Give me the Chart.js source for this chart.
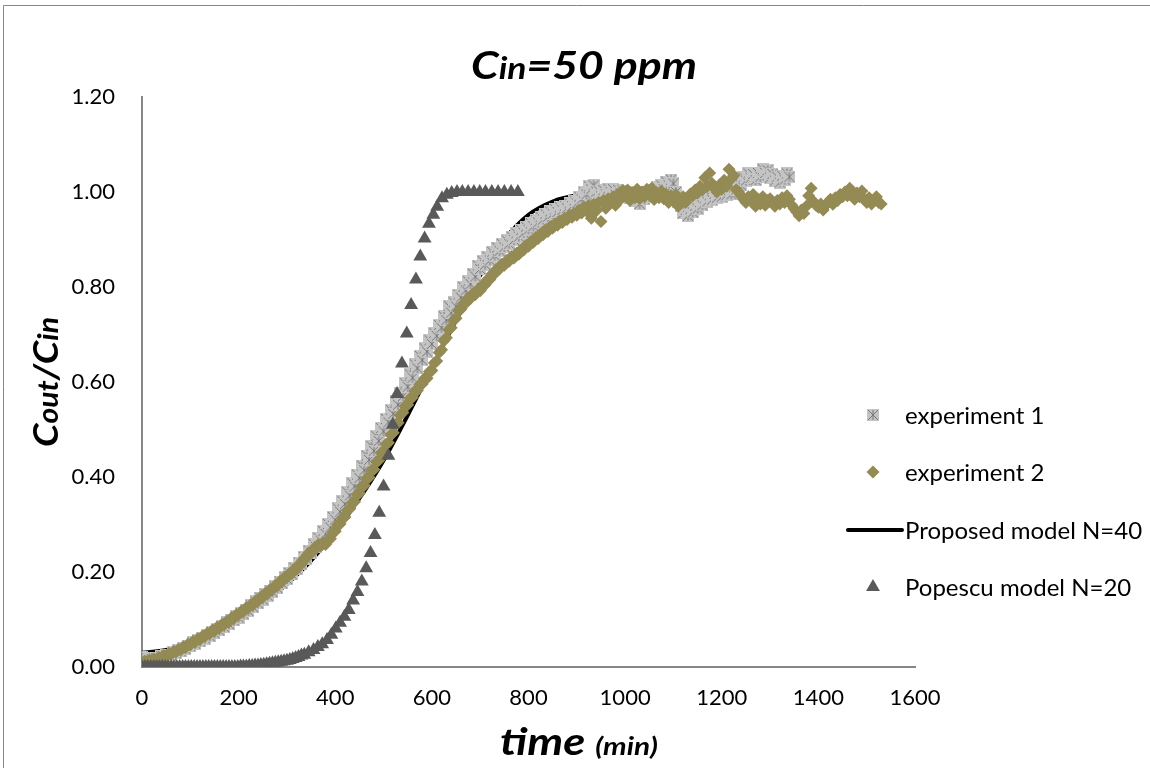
<!DOCTYPE html>
<html>
<head>
<meta charset="utf-8">
<title>Cin=50 ppm</title>
<script src="https://cdn.jsdelivr.net/npm/chart.js@4.4.1/dist/chart.umd.min.js"></script>
<style>
  html, body { margin: 0; padding: 0; background: #fff; }
  #wrap { width: 1150px; height: 768px; }
</style>
</head>
<body>
<div id="wrap"><canvas id="myChart" width="1150" height="768"></canvas></div>
<script>
// breakthrough curves, Cout/Cin against time (min)
// experiments are sampled every 5 min
const exp1Start = 0, exp1Step = 5;
const exp1Values = [
  0.022, 0.019, 0.018, 0.015, 0.017, 0.020, 0.019, 0.017, 0.023, 0.021,
  0.026, 0.024, 0.025, 0.032, 0.029, 0.036, 0.033, 0.041, 0.038, 0.045,
  0.044, 0.052, 0.049, 0.057, 0.054, 0.062, 0.060, 0.068, 0.065, 0.074,
  0.071, 0.080, 0.077, 0.086, 0.084, 0.094, 0.090, 0.100, 0.098, 0.107,
  0.104, 0.114, 0.111, 0.121, 0.118, 0.130, 0.126, 0.138, 0.134, 0.146,
  0.142, 0.154, 0.150, 0.161, 0.158, 0.170, 0.166, 0.180, 0.176, 0.189,
  0.185, 0.198, 0.195, 0.209, 0.206, 0.220, 0.216, 0.232, 0.228, 0.245,
  0.241, 0.259, 0.253, 0.272, 0.266, 0.286, 0.280, 0.301, 0.294, 0.316,
  0.310, 0.334, 0.327, 0.349, 0.343, 0.368, 0.361, 0.387, 0.380, 0.405,
  0.398, 0.424, 0.414, 0.445, 0.436, 0.465, 0.455, 0.486, 0.476, 0.503,
  0.496, 0.522, 0.515, 0.541, 0.533, 0.559, 0.552, 0.577, 0.570, 0.597,
  0.590, 0.616, 0.609, 0.637, 0.629, 0.655, 0.646, 0.671, 0.664, 0.688,
  0.680, 0.703, 0.697, 0.720, 0.714, 0.738, 0.730, 0.760, 0.746, 0.768,
  0.759, 0.784, 0.778, 0.800, 0.793, 0.812, 0.806, 0.828, 0.822, 0.845,
  0.838, 0.855, 0.847, 0.864, 0.856, 0.874, 0.866, 0.883, 0.876, 0.891,
  0.884, 0.898, 0.891, 0.906, 0.899, 0.913, 0.906, 0.920, 0.914, 0.927,
  0.921, 0.934, 0.928, 0.941, 0.936, 0.947, 0.942, 0.954, 0.948, 0.959,
  0.954, 0.964, 0.958, 0.968, 0.962, 0.971, 0.966, 0.976, 0.970, 0.982,
  0.976, 0.990, 0.985, 0.999, 0.995, 1.012, 1.006, 1.014, 1.001, 1.003,
  0.991, 1.004, 0.995, 1.007, 1.000, 1.006, 0.994, 1.005, 0.997, 1.003,
  0.990, 0.999, 0.987, 0.996, 0.982, 0.991, 0.975, 0.991, 0.985, 0.999,
  0.990, 1.005, 0.995, 1.010, 0.999, 1.014, 1.006, 1.022, 1.014, 1.026,
  1.018, 1.000, 0.978, 0.970, 0.955, 0.962, 0.950, 0.964, 0.957, 0.971,
  0.965, 0.979, 0.972, 0.987, 0.980, 0.993, 0.984, 0.996, 0.988, 1.000,
  0.990, 1.003, 0.994, 1.004, 0.995, 1.010, 1.005, 1.021, 1.014, 1.031,
  1.024, 1.039, 1.030, 1.038, 1.025, 1.040, 1.032, 1.048, 1.040, 1.046,
  1.030, 1.038, 1.024, 1.032, 1.020, 1.034, 1.026, 1.039, 1.032
];

const exp2Start = 0, exp2Step = 5;
const exp2Values = [
  0.010, 0.012, 0.011, 0.015, 0.014, 0.017, 0.016, 0.020, 0.019, 0.024,
  0.023, 0.028, 0.027, 0.032, 0.031, 0.037, 0.036, 0.042, 0.041, 0.048,
  0.047, 0.053, 0.052, 0.059, 0.058, 0.065, 0.064, 0.071, 0.070, 0.077,
  0.076, 0.083, 0.082, 0.089, 0.089, 0.096, 0.095, 0.103, 0.102, 0.110,
  0.110, 0.117, 0.117, 0.124, 0.124, 0.131, 0.131, 0.139, 0.139, 0.147,
  0.147, 0.155, 0.155, 0.163, 0.163, 0.171, 0.171, 0.180, 0.180, 0.189,
  0.189, 0.197, 0.197, 0.206, 0.206, 0.216, 0.217, 0.228, 0.229, 0.240,
  0.240, 0.249, 0.249, 0.258, 0.255, 0.262, 0.258, 0.268, 0.270, 0.283,
  0.286, 0.299, 0.301, 0.314, 0.316, 0.330, 0.333, 0.346, 0.348, 0.363,
  0.366, 0.380, 0.382, 0.397, 0.399, 0.414, 0.416, 0.432, 0.435, 0.451,
  0.454, 0.469, 0.472, 0.489, 0.493, 0.510, 0.514, 0.531, 0.536, 0.550,
  0.552, 0.566, 0.568, 0.581, 0.582, 0.595, 0.596, 0.608, 0.608, 0.622,
  0.624, 0.640, 0.644, 0.662, 0.668, 0.687, 0.693, 0.710, 0.714, 0.730,
  0.734, 0.750, 0.753, 0.765, 0.766, 0.777, 0.776, 0.786, 0.784, 0.794,
  0.792, 0.804, 0.804, 0.816, 0.816, 0.828, 0.828, 0.839, 0.838, 0.848,
  0.846, 0.856, 0.854, 0.864, 0.861, 0.871, 0.869, 0.879, 0.878, 0.888,
  0.886, 0.896, 0.894, 0.904, 0.902, 0.912, 0.910, 0.920, 0.917, 0.927,
  0.924, 0.933, 0.930, 0.939, 0.936, 0.945, 0.942, 0.951, 0.947, 0.955,
  0.951, 0.962, 0.956, 0.968, 0.960, 0.972, 0.945, 0.975, 0.960, 0.978,
  0.938, 0.982, 0.966, 0.986, 0.978, 0.990, 0.972, 0.996, 0.984, 1.003,
  0.992, 1.004, 0.982, 0.998, 0.988, 1.006, 0.986, 1.000, 0.990, 1.006,
  0.996, 1.008, 0.984, 0.999, 0.988, 1.002, 0.986, 0.995, 0.978, 0.992,
  0.982, 0.995, 0.970, 0.985, 0.990, 0.978, 0.988, 0.996, 0.992, 1.004,
  0.998, 1.012, 1.005, 1.030, 1.012, 1.040, 1.018, 1.008, 1.000, 1.015,
  1.006, 1.025, 1.012, 1.048, 1.028, 1.035, 1.005, 1.000, 0.992, 0.985,
  0.978, 0.990, 0.982, 0.995, 0.970, 0.985, 0.975, 0.990, 0.972, 0.982,
  0.986, 0.978, 0.970, 0.982, 0.975, 0.988, 0.978, 0.992, 0.985, 0.972,
  0.965, 0.958, 0.950, 0.962, 0.955, 0.970, 0.992, 1.008, 0.980, 0.972,
  0.968, 0.975, 0.962, 0.972, 0.978, 0.985, 0.974, 0.988, 0.982, 0.995,
  0.990, 1.000, 0.992, 1.008, 0.995, 0.985, 0.998, 0.990, 1.002, 0.985,
  0.978, 0.988, 0.975, 0.982, 0.990, 0.978, 0.975
];

// proposed model, N=40
const modelTime = [0, 50, 100, 150, 200, 250, 300, 350, 400, 450, 500,
  550, 600, 650, 700, 750, 800, 850, 900, 950, 1000];
const modelValue = [0.030, 0.036, 0.046, 0.068, 0.100, 0.135, 0.175, 0.224, 0.285, 0.355, 0.435,
  0.530, 0.630, 0.730, 0.825, 0.900, 0.952, 0.980, 0.993, 0.998, 1.000];

// Popescu model, N=20
const popescuTime = [
  0, 6, 12, 18, 24, 30, 36, 42, 48, 54, 60, 66, 72, 78, 84, 90, 96, 102, 108, 114,
  120, 126, 132, 138, 144, 150, 156, 162, 168, 174, 180, 186, 192, 198, 204, 210, 216, 222, 228, 234,
  240, 246, 252, 258, 264, 270, 276, 282, 288, 294, 300, 306, 312, 318, 324, 330, 336,
  345, 355, 364, 373, 383, 392, 401, 410, 419, 428, 437, 446, 455, 464, 473, 482, 491, 500,
  510, 519, 528, 538, 548, 557, 567, 576, 585, 594, 603, 611, 621, 631, 641, 652, 663,
  675, 687, 699, 711, 724, 737, 750, 764, 778
];
const popescuValue = [
  0.000, 0.000, 0.000, 0.000, 0.000, 0.000, 0.000, 0.000, 0.000, 0.000, 0.000, 0.000, 0.000, 0.000, 0.000, 0.000, 0.000, 0.000, 0.000, 0.000,
  0.000, 0.000, 0.000, 0.000, 0.000, 0.000, 0.000, 0.000, 0.000, 0.000, 0.000, 0.000, 0.000, 0.000, 0.001, 0.001, 0.001, 0.002, 0.002, 0.003,
  0.003, 0.004, 0.005, 0.006, 0.007, 0.008, 0.009, 0.010, 0.011, 0.012, 0.013, 0.015, 0.017, 0.019, 0.021, 0.024, 0.026,
  0.031, 0.036, 0.042, 0.048, 0.057, 0.068, 0.081, 0.093, 0.106, 0.120, 0.140, 0.158, 0.180, 0.208, 0.240, 0.278, 0.325, 0.380,
  0.445, 0.510, 0.575, 0.639, 0.702, 0.762, 0.816, 0.864, 0.902, 0.933, 0.952, 0.969, 0.987, 0.994, 0.998, 1.000, 1.000,
  1.000, 1.000, 1.000, 1.000, 1.000, 1.000, 1.000, 1.000, 1.000
];

const xTicks = [0, 200, 400, 600, 800, 1000, 1200, 1400, 1600];
const yTicks = [0, 0.2, 0.4, 0.6, 0.8, 1.0, 1.2];

const FONT = "Lato, 'Open Sans', sans-serif";

function toPoints(values, start, step) {
  return values.map((v, i) => ({ x: start + i * step, y: v }));
}

// grey box with a star drawn through it
function starBox(size) {
  const c = document.createElement('canvas');
  c.width = size;
  c.height = size;
  const g = c.getContext('2d');
  g.fillStyle = '#c4c4c4';
  g.fillRect(0, 0, size, size);
  g.strokeStyle = '#777';
  g.lineWidth = 1;
  g.beginPath();
  g.moveTo(1, 1); g.lineTo(size - 1, size - 1);
  g.moveTo(size - 1, 1); g.lineTo(1, size - 1);
  g.moveTo(size / 2, 1); g.lineTo(size / 2, size - 1);
  g.stroke();
  return c;
}

const legendRows = [
  { label: 'experiment 1', y: 415 },
  { label: 'experiment 2', y: 472 },
  { label: 'Proposed model N=40', y: 530, line: true },
  { label: 'Popescu model N=20', y: 587 }
];

// draws pieces of text with different fonts, centred on cx and stretched to width
function drawRun(ctx, parts, cx, baseline, width) {
  let total = 0;
  parts.forEach(p => { ctx.font = p.f; p.w = ctx.measureText(p.t).width; total += p.w; });
  const sx = width ? width / total : 1;
  ctx.save();
  ctx.translate(cx - total * sx / 2, baseline);
  ctx.scale(sx, 1);
  ctx.textAlign = 'left';
  let x = 0;
  parts.forEach(p => {
    ctx.font = p.f;
    ctx.fillText(p.t, x, 0);
    x += p.w;
  });
  ctx.restore();
}

// frame, titles and the legend
const decorations = {
  id: 'decorations',
  afterDraw(chart) {
    const ctx = chart.ctx;
    ctx.save();

    ctx.strokeStyle = '#878787';
    ctx.lineWidth = 1;
    ctx.beginPath();
    ctx.moveTo(3.5, 768);
    ctx.lineTo(3.5, 5.5);
    ctx.lineTo(1150, 5.5);
    ctx.stroke();

    ctx.fillStyle = '#000';
    ctx.textBaseline = 'alphabetic';

    // chart title
    drawRun(ctx, [
      { t: 'C', f: 'italic bold 39px ' + FONT },
      { t: 'in', f: 'italic bold 31px ' + FONT },
      { t: '=50 ppm', f: 'italic bold 39px ' + FONT }
    ], 584, 79, 226);

    // x axis title
    drawRun(ctx, [
      { t: 'time ', f: 'italic bold 38px ' + FONT },
      { t: '(min)', f: 'italic bold 25px ' + FONT }
    ], 579, 755, 158);

    // y axis title
    ctx.save();
    ctx.translate(58, 382);
    ctx.rotate(-Math.PI / 2);
    drawRun(ctx, [
      { t: 'C', f: 'italic bold 35px ' + FONT },
      { t: 'out', f: 'italic bold 28px ' + FONT },
      { t: '/C', f: 'italic bold 35px ' + FONT },
      { t: 'in', f: 'italic bold 28px ' + FONT }
    ], 0, 0, 130);
    ctx.restore();

    // legend
    ctx.font = '24px ' + FONT;
    ctx.textBaseline = 'middle';
    ctx.textAlign = 'left';
    legendRows.forEach((row, i) => {
      const ds = chart.data.datasets[i];
      if (row.line) {
        ctx.strokeStyle = ds.borderColor;
        ctx.lineWidth = ds.borderWidth;
        ctx.lineCap = 'round';
        ctx.beginPath();
        ctx.moveTo(848, row.y);
        ctx.lineTo(902, row.y);
        ctx.stroke();
      } else {
        ctx.fillStyle = ds.backgroundColor;
        ctx.strokeStyle = ds.borderColor;
        Chart.helpers.drawPoint(ctx, {
          pointStyle: ds.pointStyle,
          radius: ds.pointRadius,
          borderWidth: 0,
          rotation: 0
        }, 873, row.y);
      }
      ctx.fillStyle = '#000';
      ctx.fillText(row.label, 905, row.y + 1);
    });

    ctx.restore();
  }
};

const ctx = document.getElementById('myChart');
new Chart(ctx, {
  type: 'scatter',
  data: {
    datasets: [
      {
        label: 'experiment 1',
        data: toPoints(exp1Values, exp1Start, exp1Step),
        pointStyle: starBox(12),
        pointRadius: 6,
        backgroundColor: '#c4c4c4',
        borderColor: '#777',
        borderWidth: 0,
        showLine: false,
        order: 3
      },
      {
        label: 'experiment 2',
        data: toPoints(exp2Values, exp2Start, exp2Step),
        pointStyle: 'rectRot',
        pointRadius: 6.5,
        backgroundColor: '#948a54',
        borderColor: '#948a54',
        borderWidth: 0,
        showLine: false,
        order: 2
      },
      {
        label: 'Proposed model N=40',
        data: modelTime.map((t, i) => ({ x: t, y: modelValue[i] })),
        showLine: true,
        borderColor: '#000',
        borderWidth: 4,
        pointRadius: 0,
        cubicInterpolationMode: 'monotone',
        order: 4
      },
      {
        label: 'Popescu model N=20',
        data: popescuTime.map((t, i) => ({ x: t, y: popescuValue[i] })),
        pointStyle: 'triangle',
        pointRadius: 8,
        backgroundColor: '#595959',
        borderColor: '#595959',
        borderWidth: 0,
        showLine: false,
        order: 1
      }
    ]
  },
  options: {
    responsive: false,
    animation: false,
    devicePixelRatio: 1,
    layout: { padding: { left: 0, right: 235, top: 97, bottom: 0 } },
    scales: {
      x: {
        type: 'linear',
        min: 0,
        max: 1600,
        afterBuildTicks: axis => { axis.ticks = xTicks.map(v => ({ value: v })); },
        afterFit: axis => { axis.height = 101; },
        ticks: {
          color: '#000',
          font: { family: FONT, size: 22 },
          padding: 18,
          maxRotation: 0,
          callback: v => String(v)
        },
        grid: { display: false, drawTicks: false },
        border: { color: '#868686', width: 2 }
      },
      y: {
        type: 'linear',
        min: 0,
        max: 1.2,
        afterBuildTicks: axis => { axis.ticks = yTicks.map(v => ({ value: v })); },
        afterFit: axis => { axis.width = 142; },
        ticks: {
          color: '#000',
          font: { family: FONT, size: 22 },
          padding: 27,
          callback: v => v.toFixed(2)
        },
        grid: { display: false, drawTicks: false },
        border: { color: '#868686', width: 2 }
      }
    },
    plugins: {
      legend: { display: false },
      title: { display: false },
      tooltip: { enabled: false }
    }
  },
  plugins: [decorations]
});
</script>
</body>
</html>
